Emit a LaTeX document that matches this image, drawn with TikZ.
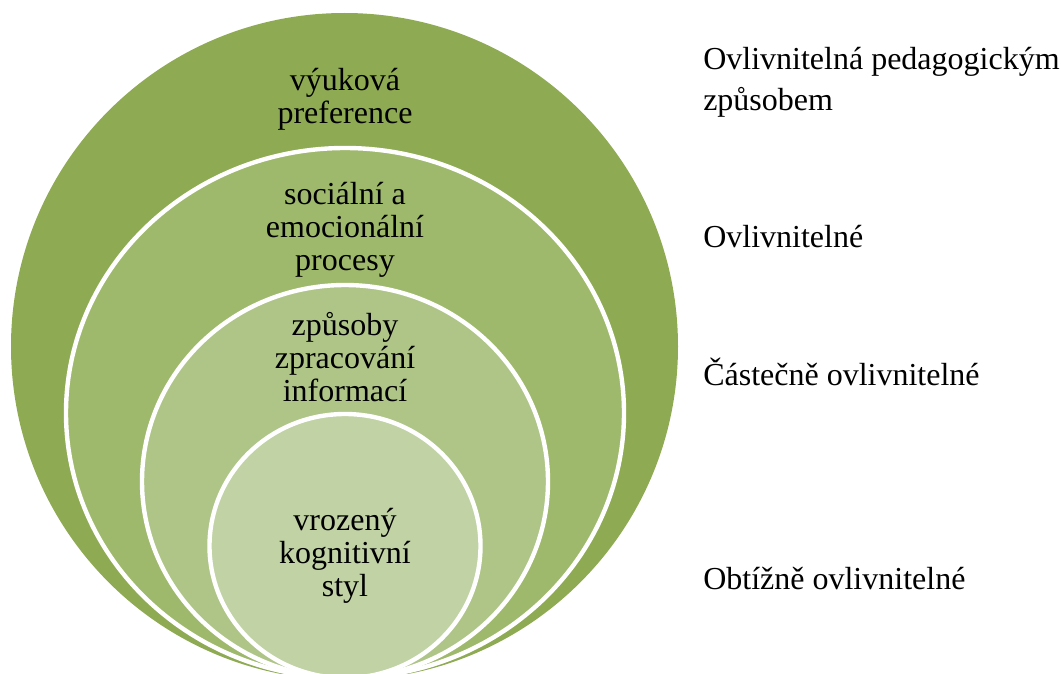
\documentclass[tikz,border=0pt]{standalone}
\usepackage{fontspec}
\setmainfont{Liberation Serif}
\definecolor{ringA}{RGB}{142,170,82}
\definecolor{ringB}{RGB}{159,185,108}
\definecolor{ringC}{RGB}{175,197,136}
\definecolor{ringD}{RGB}{193,210,165}
\begin{document}
\begin{tikzpicture}[x=0.75pt, y=-0.75pt,
  ring/.style={draw=white, line width=3.3pt},
  intext/.style={align=center, inner sep=0pt, font=\fontsize{24}{24.75}\selectfont},
  side/.style={align=left, inner sep=0pt, font=\fontsize{24}{30.5}\selectfont}]
  \useasboundingbox (0,0) rectangle (1061,674);
  \clip (0,0) rectangle (1061,674);
  % nested rings, outermost first
  \fill[ringA] (344.5,346.5) circle [radius=333.5];
  \filldraw[ring, fill=ringB] (345,413) ellipse [x radius=279, y radius=265];
  \filldraw[ring, fill=ringC] (345,481.5) ellipse [x radius=203, y radius=196.5];
  \filldraw[ring, fill=ringD] (345,546) ellipse [x radius=135.5, y radius=132];
  % ring labels
  \node[intext] (pref) at (345,99) {výuková\\preference};
  \node[intext] (soc) at (345,229.5) {sociální a\\emocionální\\procesy};
  \node[intext] (zpr) at (345,357.5) {způsoby\\zpracování\\informací};
  \node[intext] (kog) at (345,555.5) {vrozený\\kognitivní\\styl};
  % side labels
  \node[side, anchor=west] (lvA) at (703,82.5) {Ovlivnitelná pedagogickým\\způsobem};
  \node[side, anchor=base west] (lvB) at (703,247) {Ovlivnitelné};
  \node[side, anchor=base west] (lvC) at (703,385) {Částečně ovlivnitelné};
  \node[side, anchor=base west] (lvD) at (703,589) {Obtížně ovlivnitelné};
\end{tikzpicture}
\end{document}
